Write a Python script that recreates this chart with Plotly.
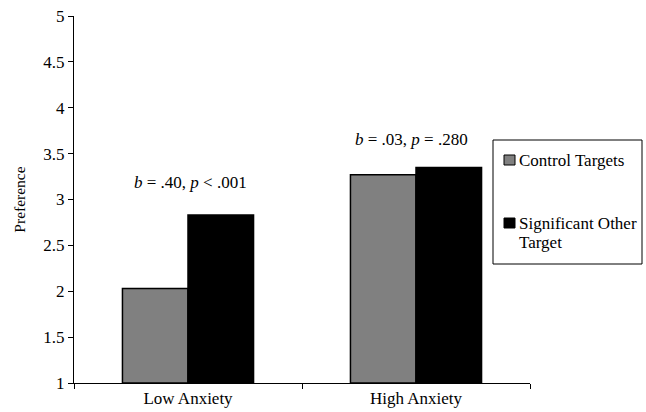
import plotly.graph_objects as go

categories = ["Low Anxiety", "High Anxiety"]
control_targets = [2.03, 3.27]
significant_other = [2.83, 3.35]
series_names = ["Control Targets", "Significant Other", "Target"]
series_colors = ["#808080", "black"]
y_ticks = [1, 1.5, 2, 2.5, 3, 3.5, 4, 4.5, 5]
y_tick_labels = ["1", "1.5", "2", "2.5", "3", "3.5", "4", "4.5", "5"]
stat_labels = ["<i>b</i> = .40, <i>p</i> < .001", "<i>b</i> = .03, <i>p</i> = .280"]
stat_y = [3.19, 3.65]

FONT = "'Liberation Serif', 'Times New Roman', serif"
W, H = 646, 412
L, R, T, B = 74, 116, 16, 29
PW, PH = W - L - R, H - T - B


def px_x(x):
    return (x - L) / PW


def px_y(y):
    return (H - B - y) / PH


fig = go.Figure()
fig.add_trace(go.Bar(x=categories, y=[v - 1 for v in control_targets], base=1,
                     name=series_names[0],
                     marker=dict(color=series_colors[0], line=dict(color="black", width=1.5))))
fig.add_trace(go.Bar(x=categories, y=[v - 1 for v in significant_other], base=1,
                     name=series_names[1] + " " + series_names[2],
                     marker=dict(color=series_colors[1], line=dict(color="black", width=1.5))))

for cat, txt, yy, xs in zip(categories, stat_labels, stat_y, [2, -5]):
    fig.add_annotation(x=cat, y=yy, text=txt, showarrow=False, xshift=xs,
                       font=dict(family=FONT, size=17, color="black"))

# legend box (drawn manually to match the original layout)
fig.add_shape(type="rect", xref="paper", yref="paper",
              x0=px_x(493), x1=px_x(642), y0=px_y(264), y1=px_y(140),
              line=dict(color="black", width=1), fillcolor="white", layer="above")
for col, yc in zip(series_colors, [160, 223]):
    fig.add_shape(type="rect", xref="paper", yref="paper",
                  x0=px_x(504), x1=px_x(515), y0=px_y(yc + 5), y1=px_y(yc - 5),
                  line=dict(color="black", width=1), fillcolor=col, layer="above")
for txt, yc in zip(series_names, [160, 223, 242]):
    fig.add_annotation(xref="paper", yref="paper", x=px_x(517), y=px_y(yc),
                       xanchor="left", yanchor="middle", text=txt, showarrow=False,
                       font=dict(family=FONT, size=17, color="black"))

fig.update_layout(
    width=W, height=H,
    margin=dict(l=L, r=R, t=T, b=B),
    paper_bgcolor="white", plot_bgcolor="white",
    barmode="group", bargap=0.425, bargroupgap=0,
    font=dict(family=FONT, size=17, color="black"),
    showlegend=False,
)
fig.update_xaxes(showline=True, linecolor="black", linewidth=1, ticks="outside",
                 tickson="boundaries", ticklen=5, tickcolor="black", automargin=False,
                 tickfont=dict(family=FONT, size=17), showgrid=False)
fig.update_yaxes(range=[1, 5], tickvals=y_ticks, ticktext=y_tick_labels,
                 showline=True, linecolor="black", linewidth=1, ticks="outside",
                 ticklen=5, tickcolor="black", showgrid=False, zeroline=False,
                 automargin=False, tickfont=dict(family=FONT, size=17),
                 title=dict(text="Preference", font=dict(family=FONT, size=15.5), standoff=13))

fig.write_html("out.html", config={"displayModeBar": False},
               post_script="document.body.style.margin='0';document.body.style.padding='0';"
                           "document.body.style.overflow='hidden';")
